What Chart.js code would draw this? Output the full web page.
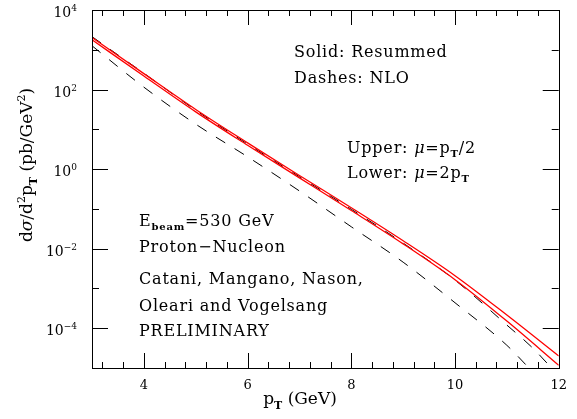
<!DOCTYPE html>
<html>
<head>
<meta charset="utf-8">
<script src="https://cdn.jsdelivr.net/npm/chart.js@4"></script>
<style>
  html, body { margin: 0; padding: 0; background: #fff; }
  #wrap { width: 577px; height: 419px; }
</style>
</head>
<body>
<div id="wrap"><canvas id="chart" width="577" height="419"></canvas></div>
<script>
const ptResummed = [3, 4, 5, 6, 7, 8, 9, 10, 11, 12];
const ptNloUpper = [3, 4, 5, 6, 7, 8, 9, 10, 11, 11.5, 12];
const ptNloLower = [3, 4, 5, 6, 7, 8, 9, 10, 11, 11.5];

// d sigma / d^2 p_T (pb/GeV^2)
const resummedUpper = [2040, 251, 31.6, 4.57, 0.692, 0.107, 0.0158, 2.09e-3, 2.14e-4, 2.0e-5];
const resummedLower = [1780, 219, 27.5, 3.98, 0.603, 0.0912, 0.0132, 1.66e-3, 1.51e-4, 1.17e-5];
const nloUpper = [2140, 257, 30.2, 4.27, 0.646, 0.0977, 0.0138, 1.62e-3, 1.20e-4, 3.16e-5, 6.3e-6];
const nloLower = [1260, 115, 13.5, 2.04, 0.282, 0.0355, 4.57e-3, 4.37e-4, 3.72e-5, 7.9e-6];

// axis ticks
const xLabelTicks = [4, 6, 8, 10, 12];
const yDecades = [-5, -4, -3, -2, -1, 0, 1, 2, 3, 4];

// annotation text, as [text, style] pieces
const notes = [
  { x: 294, y: 57, parts: [['Solid: Resummed', '']] },
  { x: 294, y: 83, parts: [['Dashes: NLO', '']] },
  { x: 347, y: 153, parts: [['Upper: ', ''], ['\u03bc', 'it'], ['=p', ''], ['T', 'sub'], ['/2', '']] },
  { x: 347, y: 178, parts: [['Lower: ', ''], ['\u03bc', 'it'], ['=2p', ''], ['T', 'sub']] },
  { x: 139, y: 226, parts: [['E', ''], ['beam', 'sub'], ['=530 GeV', '']] },
  { x: 139, y: 252, parts: [['Proton\u2212Nucleon', '']] },
  { x: 139, y: 284, parts: [['Catani, Mangano, Nason,', '']] },
  { x: 139, y: 311, parts: [['Oleari and Vogelsang', '']] },
  { x: 139, y: 336, parts: [['PRELIMINARY', '']] }
];
const xTitle = [['p', ''], ['T', 'sub'], [' (GeV)', '']];
const yTitle = [['d', ''], ['\u03c3', 'it'], ['/d', ''], ['2', 'sup'], ['p', ''], ['T', 'sub'], [' (pb/GeV', ''], ['2', 'sup'], [')', '']];

const FONT = "'DejaVu Serif', serif";

function pieceFont(style, size) {
  if (style === 'sub') return 'bold ' + Math.round(size * 0.62) + 'px ' + FONT;
  if (style === 'sup') return Math.round(size * 0.66) + 'px ' + FONT;
  if (style === 'it') return 'italic ' + size + 'px ' + FONT;
  return size + 'px ' + FONT;
}

function drawRich(ctx, parts, x, y, size, align) {
  let w = 0;
  parts.forEach(([t, s]) => { ctx.font = pieceFont(s, size); w += ctx.measureText(t).width; });
  let cx = align === 'center' ? x - w / 2 : (align === 'right' ? x - w : x);
  parts.forEach(([t, s]) => {
    ctx.font = pieceFont(s, size);
    const dy = s === 'sub' ? size * 0.28 : (s === 'sup' ? -size * 0.42 : 0);
    ctx.fillText(t, cx, y + dy);
    cx += ctx.measureText(t).width;
  });
}

function toPoints(xs, ys) {
  return xs.map((x, i) => ({ x: x, y: ys[i] }));
}

// frame, inward ticks on all four sides, y labels and titles
const framePlugin = {
  id: 'frame',
  afterDatasetsDraw(chart) {
    const { ctx, chartArea: a, scales: { x, y } } = chart;
    ctx.save();
    ctx.strokeStyle = '#000';
    ctx.lineWidth = 1;
    ctx.beginPath();
    x.ticks.forEach(t => {
      const px = Math.round(x.getPixelForValue(t.value)) + 0.5;
      const major = Math.abs(t.value - Math.round(t.value)) < 1e-6 && Math.round(t.value) % 2 === 0;
      const len = major ? 15 : 6;
      ctx.moveTo(px, a.bottom); ctx.lineTo(px, a.bottom - len);
      ctx.moveTo(px, a.top); ctx.lineTo(px, a.top + len);
    });
    y.ticks.forEach(t => {
      const e = Math.round(Math.log10(t.value));
      const py = Math.round(y.getPixelForValue(t.value)) + 0.5;
      const len = e % 2 === 0 ? 16 : 7;
      ctx.moveTo(a.left, py); ctx.lineTo(a.left + len, py);
      ctx.moveTo(a.right, py); ctx.lineTo(a.right - len, py);
    });
    ctx.stroke();
    ctx.strokeRect(Math.round(a.left) + 0.5, Math.round(a.top) + 0.5,
      Math.round(a.right - a.left), Math.round(a.bottom - a.top));

    ctx.fillStyle = '#000';
    ctx.textBaseline = 'alphabetic';
    ctx.textAlign = 'left';
    y.ticks.forEach(t => {
      const e = Math.round(Math.log10(t.value));
      if (e % 2 !== 0) return;
      const py = y.getPixelForValue(t.value);
      drawRich(ctx, [['10', ''], [e < 0 ? '\u2212' + (-e) : String(e), 'sup']], 77, py + 7, 14, 'right');
    });

    ctx.letterSpacing = '0.8px';
    notes.forEach(n => drawRich(ctx, n.parts, n.x, n.y, 16, 'left'));
    ctx.letterSpacing = '0px';

    drawRich(ctx, xTitle, 300, 404, 17, 'center');
    ctx.translate(32, 165);
    ctx.rotate(-Math.PI / 2);
    drawRich(ctx, yTitle, 0, 0, 17, 'center');
    ctx.restore();
  }
};

const ctx = document.getElementById('chart');
new Chart(ctx, {
  type: 'line',
  data: {
    datasets: [
      { data: toPoints(ptResummed, resummedUpper), borderColor: '#ff0000', borderWidth: 1.3 },
      { data: toPoints(ptResummed, resummedLower), borderColor: '#ff0000', borderWidth: 1.3 },
      { data: toPoints(ptNloUpper, nloUpper), borderColor: '#000', borderWidth: 1, borderDash: [11, 11] },
      { data: toPoints(ptNloLower, nloLower), borderColor: '#000', borderWidth: 1, borderDash: [11, 11] }
    ]
  },
  options: {
    responsive: false,
    animation: false,
    devicePixelRatio: 1,
    layout: { padding: { top: 10, right: 18, left: 0, bottom: 0 } },
    elements: {
      point: { radius: 0 },
      line: { cubicInterpolationMode: 'monotone', fill: false }
    },
    datasets: { line: { clip: 0 } },
    plugins: { legend: { display: false }, tooltip: { enabled: false } },
    scales: {
      x: {
        type: 'linear',
        min: 3,
        max: 12,
        afterBuildTicks: scale => {
          const ticks = [];
          for (let v = 3.2; v <= 12.001; v += 0.4) ticks.push({ value: Math.round(v * 10) / 10 });
          scale.ticks = ticks;
        },
        afterFit: scale => { scale.height = 51; },
        border: { display: false },
        grid: { display: false, drawTicks: false },
        ticks: {
          autoSkip: false,
          maxRotation: 0,
          padding: 10,
          color: '#000',
          font: { family: FONT, size: 13 },
          callback: v => (xLabelTicks.includes(Math.round(v * 10) / 10) ? String(Math.round(v)) : '')
        }
      },
      y: {
        type: 'logarithmic',
        min: 1e-5,
        max: 1e4,
        afterBuildTicks: scale => {
          scale.ticks = yDecades.map(e => ({ value: Math.pow(10, e) }));
        },
        afterFit: scale => { scale.width = 92; },
        border: { display: false },
        grid: { display: false },
        ticks: { display: false }
      }
    }
  },
  plugins: [framePlugin]
});
</script>
</body>
</html>
